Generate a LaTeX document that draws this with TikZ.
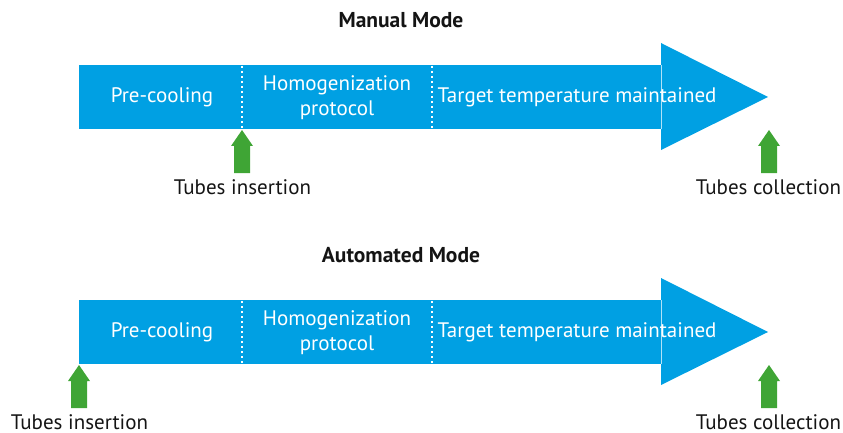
\documentclass[tikz,border=0pt]{standalone}
\usepackage{fontspec}
\setmainfont{PT Sans}
\definecolor{flowblue}{RGB}{0,160,227}
\definecolor{tubegreen}{RGB}{63,165,53}
\definecolor{txt}{RGB}{20,20,20}
\tikzset{
  phase/.style={text=white, font=\fontsize{21}{25}\selectfont, align=center, inner sep=0pt},
  lbl/.style={text=txt, font=\fontsize{21}{25}\selectfont, inner sep=0pt},
  ttl/.style={text=txt, font=\bfseries\fontsize{21.5}{25}\selectfont, inner sep=0pt},
  sep/.style={white, line width=2.2pt, dash pattern=on 2.2pt off 2.8pt},
  tubearrow/.style={fill=tubegreen, draw=none}
}
\begin{document}
\begin{tikzpicture}[x=1pt,y=-1pt]
\useasboundingbox (0,0) rectangle (843,433);
\foreach \dy/\ttext/\ix in {0/Manual Mode/242, 235/Automated Mode/79}{
  \begin{scope}[yshift=-\dy pt]
    \fill[flowblue] (79,65) rectangle (662,129);
    \fill[flowblue] (661,43) -- (768,97) -- (661,150) -- cycle;
    \draw[white!70!flowblue, line width=0.6pt] (661,65) -- (661,129);
    \node[ttl] (title) at (401,20) {\ttext};
    \draw[sep] (242,66) -- (242,129);
    \draw[sep] (432,66) -- (432,129);
    \node[phase] (pc) at (162,97) {Pre-cooling};
    \node[phase] (hp) at (337,97.5) {Homogenization\\protocol};
    \node[phase] (tt) at (577,97) {Target temperature maintained};
    \fill[tubearrow] (\ix,130) -- (\ix+11,146) -- (\ix+8,146) -- (\ix+8,173) -- (\ix-8,173) -- (\ix-8,146) -- (\ix-11,146) -- cycle;
    \fill[tubearrow] (769,130) -- (780,146) -- (777,146) -- (777,173) -- (761,173) -- (761,146) -- (758,146) -- cycle;
    \node[lbl] (ins) at (\ix+0.5,187) {Tubes insertion};
    \node[lbl] (col) at (768.5,187) {Tubes collection};
  \end{scope}
}
\end{tikzpicture}
\end{document}
